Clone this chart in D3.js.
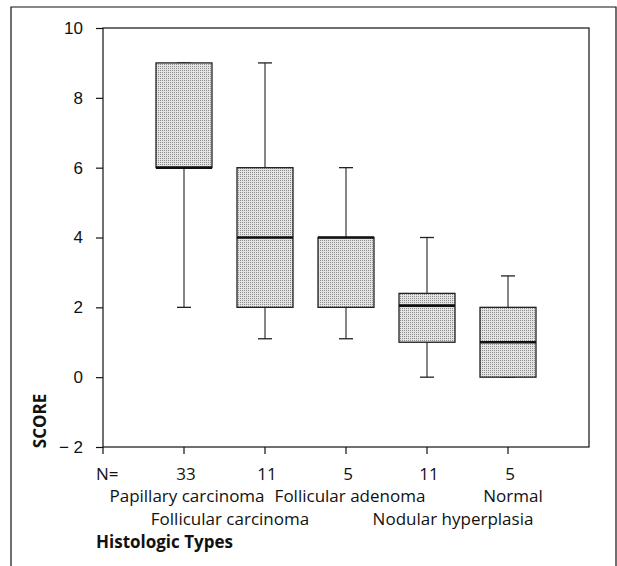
<!DOCTYPE html>
<html>
<head>
<meta charset="utf-8">
<script src="https://cdn.jsdelivr.net/npm/d3@7"></script>
<style>
  html, body { margin: 0; padding: 0; background: #fff; }
  svg { display: block; font-family: "Open Sans", sans-serif; }
  .axis-line { stroke: #111; stroke-width: 1.2; fill: none; }
  .tick-label { font-size: 17px; fill: #111; }
</style>
</head>
<body>
<div id="chart"></div>
<script>
// data
const categories = ['Papillary carcinoma', 'Follicular carcinoma', 'Follicular adenoma', 'Nodular hyperplasia', 'Normal'];
const counts = [33, 11, 5, 11, 5];
const lowerWhisker = [2, 1.1, 1.1, 0, 0];
const q1 = [6, 2, 2, 1, 0];
const median = [6, 4, 4, 2.05, 1];
const q3 = [9, 6, 4, 2.4, 2];
const upperWhisker = [9, 9, 6, 4, 2.9];
const yTicks = [10, 8, 6, 4, 2, 0, -2];
const labelRow = [0, 1, 0, 1, 0];

const W = 617, H = 566;
const plot = { left: 103, right: 589, top: 28, bottom: 447 };
// second-row labels are staggered a bit off the tick in the original
const rowShift = [3, -35, 4, 26, 5];

const svg = d3.select('#chart').append('svg')
  .attr('width', W)
  .attr('height', H);

const defs = svg.append('defs');
const pat = defs.append('pattern')
  .attr('id', 'stipple')
  .attr('width', 2)
  .attr('height', 2)
  .attr('patternUnits', 'userSpaceOnUse');
pat.append('rect').attr('width', 2).attr('height', 2).attr('fill', '#e4e4e4');
pat.append('rect').attr('width', 1).attr('height', 1).attr('fill', '#8c8c8c');

// outer frame (open at the bottom)
svg.append('path')
  .attr('class', 'axis-line')
  .attr('d', `M11,${H} V7 H616 V${H}`);

const x = d3.scalePoint()
  .domain(categories)
  .range([plot.left, plot.right])
  .padding(1);

const y = d3.scaleLinear()
  .domain([-2, 10])
  .range([plot.bottom, plot.top]);

// plot rectangle
svg.append('rect')
  .attr('class', 'axis-line')
  .attr('x', plot.left)
  .attr('y', plot.top)
  .attr('width', plot.right - plot.left)
  .attr('height', plot.bottom - plot.top);

// y axis
const yAxis = d3.axisLeft(y)
  .tickValues(yTicks)
  .tickSize(7)
  .tickPadding(13)
  .tickFormat(d => d < 0 ? '\u2212 ' + Math.abs(d) : d);

const gy = svg.append('g')
  .attr('transform', `translate(${plot.left},0)`)
  .call(yAxis);
gy.select('.domain').remove();
gy.selectAll('line').attr('stroke', '#111').attr('stroke-width', 1.2);
gy.selectAll('text').attr('class', 'tick-label').attr('font-size', null).attr('font-family', null);

// x axis ticks
const gx = svg.append('g')
  .attr('transform', `translate(0,${plot.bottom})`);
gx.selectAll('line')
  .data([null, ...categories])
  .enter()
  .append('line')
  .attr('x1', d => d === null ? plot.left : x(d))
  .attr('x2', d => d === null ? plot.left : x(d))
  .attr('y1', 0)
  .attr('y2', 7)
  .attr('stroke', '#111')
  .attr('stroke-width', 1.2);

// boxes
const boxW = 56, capW = 14;
const boxes = svg.append('g')
  .selectAll('g')
  .data(categories)
  .enter()
  .append('g');

boxes.append('line')
  .attr('x1', d => x(d))
  .attr('x2', d => x(d))
  .attr('y1', (d, i) => y(upperWhisker[i]))
  .attr('y2', (d, i) => y(lowerWhisker[i]))
  .attr('stroke', '#222')
  .attr('stroke-width', 1.1);

boxes.selectAll('.cap')
  .data((d, i) => [upperWhisker[i], lowerWhisker[i]].map(v => ({ c: d, v })))
  .enter()
  .append('line')
  .attr('class', 'cap')
  .attr('x1', d => x(d.c) - capW / 2)
  .attr('x2', d => x(d.c) + capW / 2)
  .attr('y1', d => y(d.v))
  .attr('y2', d => y(d.v))
  .attr('stroke', '#222')
  .attr('stroke-width', 1.3);

boxes.append('rect')
  .attr('x', d => x(d) - boxW / 2)
  .attr('y', (d, i) => y(q3[i]))
  .attr('width', boxW)
  .attr('height', (d, i) => y(q1[i]) - y(q3[i]))
  .attr('fill', 'url(#stipple)')
  .attr('stroke', '#222')
  .attr('stroke-width', 1.3);

boxes.append('line')
  .attr('x1', d => x(d) - boxW / 2)
  .attr('x2', d => x(d) + boxW / 2)
  .attr('y1', (d, i) => y(median[i]))
  .attr('y2', (d, i) => y(median[i]))
  .attr('stroke', '#111')
  .attr('stroke-width', 2.6);

// N= row
svg.append('text')
  .attr('class', 'tick-label')
  .attr('x', 96)
  .attr('y', 480)
  .text('N=');

svg.append('g')
  .selectAll('text')
  .data(categories)
  .enter()
  .append('text')
  .attr('class', 'tick-label')
  .attr('text-anchor', 'middle')
  .attr('x', d => x(d) + 2)
  .attr('y', 480)
  .text((d, i) => counts[i]);

// category labels on two staggered rows
svg.append('g')
  .selectAll('text')
  .data(categories)
  .enter()
  .append('text')
  .attr('class', 'tick-label')
  .attr('text-anchor', 'middle')
  .attr('x', (d, i) => x(d) + rowShift[i])
  .attr('y', (d, i) => labelRow[i] === 0 ? 502 : 525)
  .text(d => d);

svg.append('text')
  .attr('class', 'tick-label')
  .attr('x', 96)
  .attr('y', 548)
  .attr('font-weight', 'bold')
  .text('Histologic Types');

svg.append('text')
  .attr('class', 'tick-label')
  .attr('font-weight', 'bold')
  .attr('text-anchor', 'middle')
  .attr('transform', 'translate(46,421) rotate(-90)')
  .text('SCORE');
</script>
</body>
</html>
